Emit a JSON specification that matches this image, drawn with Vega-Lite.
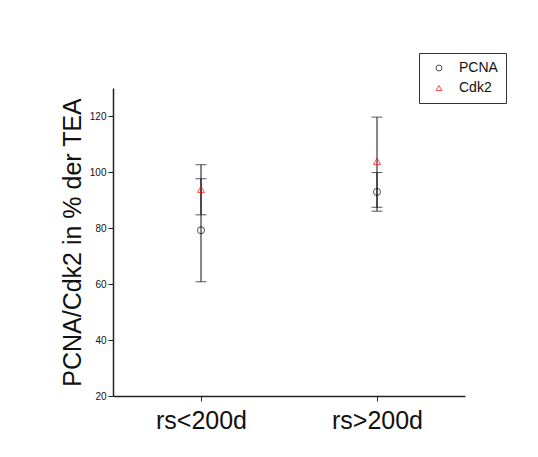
{
  "$schema": "https://vega.github.io/schema/vega-lite/v6.json",
  "width": 352,
  "height": 308,
  "autosize": {"type": "none"},
  "padding": {"left": 113, "top": 88, "right": 73, "bottom": 61},
  "background": "white",
  "config": {
    "view": {"stroke": null},
    "font": "Liberation Sans",
    "axis": {"grid": false, "domainColor": "#222", "tickColor": "#222", "labelColor": "#111", "titleColor": "#111", "labelFont": "Liberation Sans", "titleFont": "Liberation Sans", "titleFontWeight": "normal", "domainWidth": 1.5}
  },
  "data": {
    "values": [
      {"group": "rs<200d", "series": "PCNA", "mean": 79.2, "lo": 60.8, "hi": 97.6},
      {"group": "rs<200d", "series": "Cdk2", "mean": 93.8, "lo": 84.7, "hi": 102.6},
      {"group": "rs>200d", "series": "PCNA", "mean": 92.9, "lo": 86.0, "hi": 99.8},
      {"group": "rs>200d", "series": "Cdk2", "mean": 103.8, "lo": 87.4, "hi": 119.6}
    ]
  },
  "encoding": {
    "x": {
      "field": "group",
      "type": "nominal",
      "sort": ["rs<200d", "rs>200d"],
      "scale": {"type": "point", "padding": 0.5},
      "axis": {"title": null, "labelAngle": 0, "labelFontSize": 25, "labelPadding": 7, "tickSize": 5, "domainColor": "#222"}
    }
  },
  "layer": [
    {
      "mark": {"type": "rule", "color": "#111", "strokeWidth": 1},
      "encoding": {
        "y": {
          "field": "lo",
          "type": "quantitative",
          "scale": {"domain": [20, 130], "nice": false},
          "axis": {
            "title": "PCNA/Cdk2 in % der TEA",
            "titleFontSize": 25,
            "titlePadding": 4,
            "labelFontSize": 10,
            "labelPadding": 2,
            "values": [20, 30, 40, 50, 60, 70, 80, 90, 100, 110, 120, 130],
            "labelExpr": "datum.value % 20 === 0 ? datum.label : ''",
            "tickSize": {"condition": {"test": "datum.value % 20 === 0", "value": 5}, "value": 3}
          }
        },
        "y2": {"field": "hi"}
      }
    },
    {
      "mark": {"type": "tick", "color": "#111", "size": 11, "thickness": 1},
      "encoding": {"y": {"field": "lo", "type": "quantitative", "title": "PCNA/Cdk2 in % der TEA"}}
    },
    {
      "mark": {"type": "tick", "color": "#111", "size": 11, "thickness": 1},
      "encoding": {"y": {"field": "hi", "type": "quantitative", "title": "PCNA/Cdk2 in % der TEA"}}
    },
    {
      "mark": {"type": "point", "filled": false, "size": 50, "strokeWidth": 1},
      "encoding": {
        "y": {"field": "mean", "type": "quantitative", "title": "PCNA/Cdk2 in % der TEA"},
        "color": {
          "field": "series",
          "type": "nominal",
          "scale": {"domain": ["PCNA", "Cdk2"], "range": ["#000000", "#ff0000"]},
          "legend": {
            "title": null,
            "orient": "none",
            "legendX": 306,
            "legendY": -35,
            "strokeColor": "#333",
            "fillColor": "white",
            "padding": 8,
            "rowPadding": 6,
            "labelFontSize": 14,
            "labelColor": "#111",
            "labelOffset": 13,
            "symbolOffset": 5,
            "symbolSize": 35,
            "symbolStrokeWidth": 1
          }
        },
        "shape": {
          "field": "series",
          "type": "nominal",
          "scale": {"domain": ["PCNA", "Cdk2"], "range": ["circle", "triangle-up"]}
        }
      }
    }
  ]
}
